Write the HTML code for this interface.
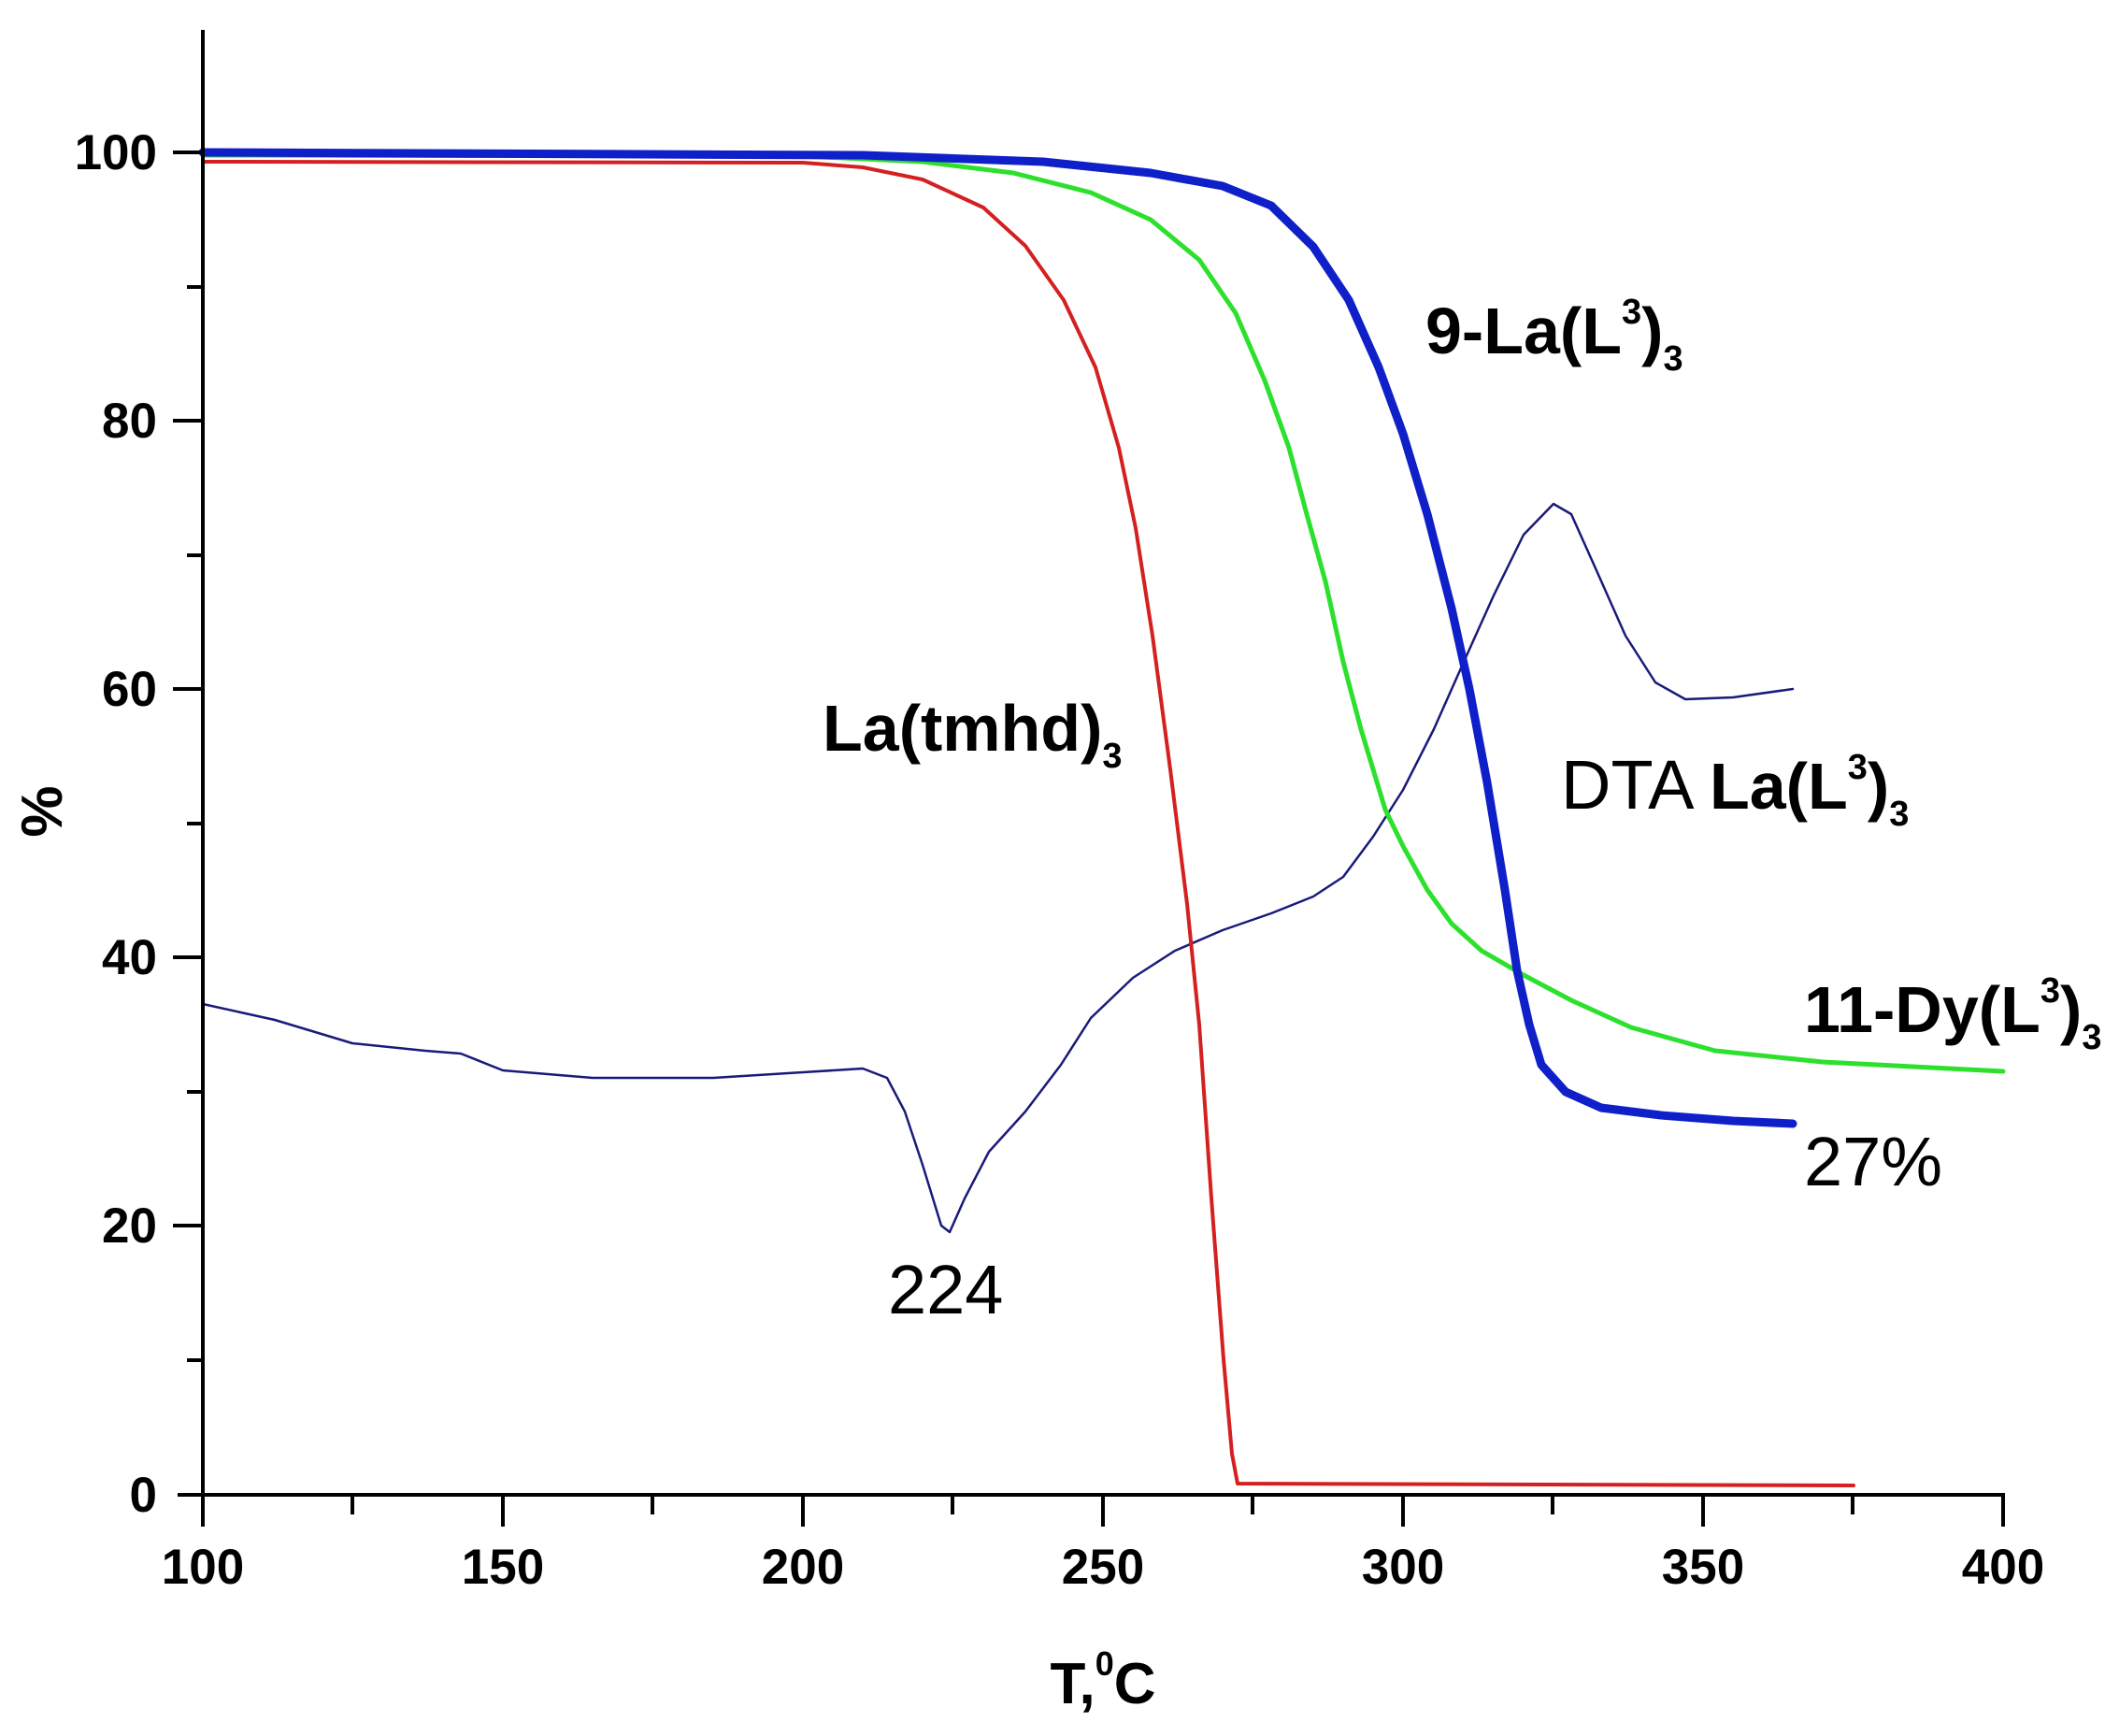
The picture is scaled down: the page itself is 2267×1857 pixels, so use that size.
<!DOCTYPE html>
<html><head><meta charset="utf-8"><style>html,body{margin:0;padding:0;background:#fff}svg{display:block}</style></head>
<body>
<svg width="2267" height="1857" viewBox="0 0 2267 1857" xmlns="http://www.w3.org/2000/svg" font-family="Liberation Sans, sans-serif">
<rect width="2267" height="1857" fill="#fff"/>
<g fill="none" stroke-linejoin="round" stroke-linecap="round">
<polyline stroke="#1a1a7a" stroke-width="2.5" points="217,1074 294,1091 377,1116 455,1124 493,1127 538,1145 634,1153 763,1153 859,1147 923,1143 949,1153 968,1189 987,1246 1007,1311 1016,1318 1032,1282 1058,1232 1097,1189 1135,1139 1167,1089 1212,1046 1257,1017 1308,995 1360,977 1405,959 1437,938 1469,895 1501,845 1534,780 1566,708 1598,637 1630,572 1662,539 1681,550 1707,608 1739,680 1771,730 1803,748 1854,746 1918,737"/>
<polyline stroke="#d42020" stroke-width="4" points="217,173 859,174 923,179 987,192 1052,222 1097,263 1138,321 1172,393 1197,479 1215,565 1233,680 1252,823 1270,967 1283,1096 1296,1282 1309,1454 1318,1555 1324,1587 1983,1589"/>
<polyline stroke="#2ee02e" stroke-width="5" points="217,166 859,167 987,173 1084,185 1167,206 1231,235 1283,278 1322,335 1353,407 1379,479 1398,550 1418,622 1437,708 1456,780 1482,866 1501,905 1527,952 1553,988 1585,1017 1630,1043 1681,1070 1745,1099 1835,1124 1950,1136 2143,1146"/>
<polyline stroke="#1020c8" stroke-width="9" points="217,163 923,166 1116,173 1231,185 1308,199 1360,220 1405,264 1443,321 1475,393 1501,464 1527,550 1553,651 1572,737 1591,837 1610,952 1623,1038 1636,1096 1649,1139 1675,1168 1713,1185 1777,1193 1854,1199 1918,1202"/>
</g>
<g stroke="#000" stroke-width="4">
<line x1="217" y1="32" x2="217" y2="1600"/>
<line x1="190" y1="1599" x2="2145" y2="1599"/>
<line x1="185" y1="163" x2="217" y2="163"/>
<line x1="185" y1="450" x2="217" y2="450"/>
<line x1="185" y1="737" x2="217" y2="737"/>
<line x1="185" y1="1024" x2="217" y2="1024"/>
<line x1="185" y1="1311" x2="217" y2="1311"/>
<line x1="200" y1="307" x2="217" y2="307"/>
<line x1="200" y1="594" x2="217" y2="594"/>
<line x1="200" y1="881" x2="217" y2="881"/>
<line x1="200" y1="1168" x2="217" y2="1168"/>
<line x1="200" y1="1455" x2="217" y2="1455"/>
<line x1="217" y1="1599" x2="217" y2="1633"/>
<line x1="538" y1="1599" x2="538" y2="1633"/>
<line x1="859" y1="1599" x2="859" y2="1633"/>
<line x1="1180" y1="1599" x2="1180" y2="1633"/>
<line x1="1501" y1="1599" x2="1501" y2="1633"/>
<line x1="1822" y1="1599" x2="1822" y2="1633"/>
<line x1="2143" y1="1599" x2="2143" y2="1633"/>
<line x1="377" y1="1599" x2="377" y2="1620"/>
<line x1="698" y1="1599" x2="698" y2="1620"/>
<line x1="1019" y1="1599" x2="1019" y2="1620"/>
<line x1="1340" y1="1599" x2="1340" y2="1620"/>
<line x1="1661" y1="1599" x2="1661" y2="1620"/>
<line x1="1982" y1="1599" x2="1982" y2="1620"/>
</g>
<g font-size="53" font-weight="bold" text-anchor="end" fill="#000">
<text x="168" y="181">100</text><text x="168" y="468">80</text><text x="168" y="755">60</text>
<text x="168" y="1042">40</text><text x="168" y="1329">20</text><text x="168" y="1617">0</text>
</g>
<g font-size="53" font-weight="bold" text-anchor="middle" fill="#000">
<text x="217" y="1694">100</text><text x="538" y="1694">150</text><text x="859" y="1694">200</text>
<text x="1180" y="1694">250</text><text x="1501" y="1694">300</text><text x="1822" y="1694">350</text><text x="2143" y="1694">400</text>
</g>
<text x="1180" y="1822" font-size="62" font-weight="bold" text-anchor="middle">T,<tspan font-size="36" dy="-30">0</tspan><tspan dy="30">C</tspan></text>
<text transform="translate(66,868) rotate(-90)" font-size="62" font-weight="bold" text-anchor="middle">%</text>
<g font-size="70" fill="#000">
<text x="1525" y="378" font-weight="bold">9-La(L<tspan font-size="38" dy="-32">3</tspan><tspan dy="32">)</tspan><tspan font-size="38" dy="18">3</tspan></text>
<text x="880" y="803" font-weight="bold">La(tmhd)<tspan font-size="38" dy="18">3</tspan></text>
<text x="1670" y="865" font-size="74">DTA <tspan font-weight="bold" font-size="70">La(L</tspan><tspan font-size="38" font-weight="bold" dy="-32">3</tspan><tspan font-weight="bold" font-size="70" dy="32">)</tspan><tspan font-size="38" font-weight="bold" dy="18">3</tspan></text>
<text x="1930" y="1104" font-weight="bold">11-Dy(L<tspan font-size="38" dy="-32">3</tspan><tspan dy="32">)</tspan><tspan font-size="38" dy="18">3</tspan></text>
<text x="1930" y="1268" font-size="74">27%</text>
<text x="950" y="1405" font-size="74">224</text>
</g>
</svg>
</body></html>
